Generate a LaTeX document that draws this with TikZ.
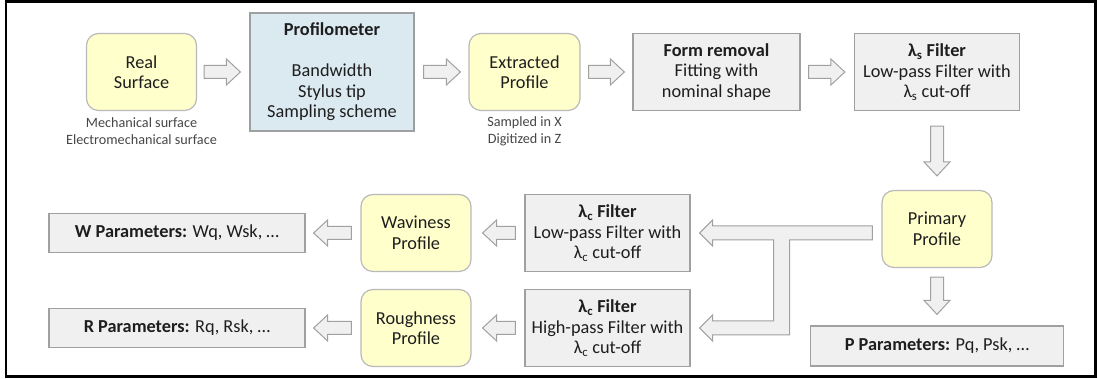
\documentclass[tikz,border=0pt]{standalone}
\usepackage{fontspec}
\setmainfont{Carlito}
\usetikzlibrary{calc}
\definecolor{yfill}{RGB}{255,255,204}
\definecolor{yline}{RGB}{185,185,185}
\definecolor{gfill}{RGB}{240,240,240}
\definecolor{gline}{RGB}{160,160,160}
\definecolor{bfill}{RGB}{219,234,241}
\definecolor{txt}{RGB}{30,30,30}
\definecolor{notetxt}{RGB}{70,70,70}
\newcommand{\lsub}[1]{λ\textsubscript{#1}}
% block arrow from #1 to #2
\newcommand{\blockarrow}[2]{%
\coordinate (ba-s) at (#1);
\coordinate (ba-e) at (#2);
\coordinate (ba-h) at ($(ba-e)!14pt!(ba-s)$);
\draw[arrowbody] ($(ba-s)!6.5pt!90:(ba-e)$) -- ($(ba-h)!6.5pt!-90:(ba-s)$)
  -- ($(ba-h)!13pt!-90:(ba-s)$) -- (ba-e) -- ($(ba-h)!13pt!90:(ba-s)$)
  -- ($(ba-h)!6.5pt!90:(ba-s)$) -- ($(ba-s)!6.5pt!-90:(ba-e)$) -- cycle;}
\begin{document}
\begin{tikzpicture}[x=1pt,y=1pt,
  box/.style={draw, line width=1.2pt, align=center, inner sep=0pt, text=txt,
    font=\fontsize{18.3}{20.5}\selectfont},
  yellowbox/.style={box, draw=yline, fill=yfill, rounded corners=12pt,
    minimum width=110pt, minimum height=77pt},
  greybox/.style={box, draw=gline, fill=gfill, minimum width=165pt, minimum height=77pt},
  bluebox/.style={box, draw=gline, fill=bfill, minimum width=164pt, minimum height=118pt},
  parbox/.style={box, draw=gline, fill=gfill, minimum width=256pt, minimum height=39pt},
  note/.style={align=center, text=notetxt, font=\fontsize{14.2}{17}\selectfont},
  arrowbody/.style={draw=gline, fill=gfill, line width=1pt, line join=miter}]
\useasboundingbox (0,0) rectangle (1098,379);
\draw[line width=2.5pt] (6.2,2.3) rectangle (1095.7,377.7);
% top row
\node[yellowbox] (real) at (141.5,307) {Real\\Surface};
\node[note] (realnote) at (141.5,247.5) {Mechanical surface\\Electromechanical surface};
\node[bluebox] (prof) at (332,307) {\textbf{Profilometer}\\[20.5pt]Bandwidth\\Stylus tip\\Sampling scheme};
\node[yellowbox, minimum width=111pt] (ext) at (524.5,307) {Extracted\\Profile};
\node[note] (extnote) at (524.5,247.5) {Sampled in X\\Digitized in Z};
\node[greybox, minimum width=167pt] (form) at (716.5,307) {\textbf{Form removal}\\Fitting with\\nominal shape};
\node[greybox] (lams) at (937,307) {\textbf{\lsub{s} Filter}\\Low-pass Filter with\\\lsub{s} cut-off};
% right column
\node[yellowbox] (prim) at (937,150) {Primary\\Profile};
\node[parbox, minimum width=253pt, minimum height=40pt] (ppar) at (937,33) {\textbf{P Parameters:} Pq, Psk, …};
% bottom rows
\node[greybox] (lpf) at (607.5,146) {\textbf{\lsub{c} Filter}\\Low-pass Filter with\\\lsub{c} cut-off};
\node[greybox] (hpf) at (607.5,51) {\textbf{\lsub{c} Filter}\\High-pass Filter with\\\lsub{c} cut-off};
\node[yellowbox] (wav) at (416,146) {Waviness\\Profile};
\node[yellowbox] (rough) at (416,51) {Roughness\\Profile};
\node[parbox] (wpar) at (177,146) {\textbf{W Parameters:} Wq, Wsk, …};
\node[parbox] (rpar) at (177,51) {\textbf{R Parameters:} Rq, Rsk, …};
% arrows
\blockarrow{$(real.east)+(7,0)$}{$(prof.west)+(-9,0)$}
\blockarrow{$(prof.east)+(9,0)$}{$(ext.west)+(-8,0)$}
\blockarrow{$(ext.east)+(8,0)$}{$(form.west)+(-8,0)$}
\blockarrow{$(form.east)+(8,0)$}{$(lams.west)+(-9,0)$}
\blockarrow{$(lams.south)+(0,-15)$}{$(prim.north)+(0,14)$}
\blockarrow{$(prim.south)+(0,-9)$}{$(ppar.north)+(0,11)$}
\blockarrow{$(lpf.west)+(-9,0)$}{$(wav.east)+(11,0)$}
\blockarrow{$(hpf.west)+(-9,0)$}{$(rough.east)+(11,0)$}
\blockarrow{$(wav.west)+(-9,0)$}{$(wpar.east)+(8,0)$}
\blockarrow{$(rough.west)+(-9,0)$}{$(rpar.east)+(8,0)$}
% split arrow from primary profile
\draw[arrowbody] let \p1=(prim.west), \p2=(lpf.east), \p3=(hpf.east) in
  (\x1-9pt,\y2+7pt) -- (\x2+22pt,\y2+7pt) -- (\x2+22pt,\y2+13pt) -- (\x2+9pt,\y2)
  -- (\x2+22pt,\y2-13pt) -- (\x2+22pt,\y2-7pt) -- (\x2+83pt,\y2-7pt)
  -- (\x2+83pt,\y3+7pt) -- (\x2+22pt,\y3+7pt) -- (\x2+22pt,\y3+13pt) -- (\x2+9pt,\y3)
  -- (\x2+22pt,\y3-13pt) -- (\x2+22pt,\y3-7pt) -- (\x2+99pt,\y3-7pt)
  -- (\x2+99pt,\y2-7pt) -- (\x1-9pt,\y2-7pt) -- cycle;
\end{tikzpicture}
\end{document}
